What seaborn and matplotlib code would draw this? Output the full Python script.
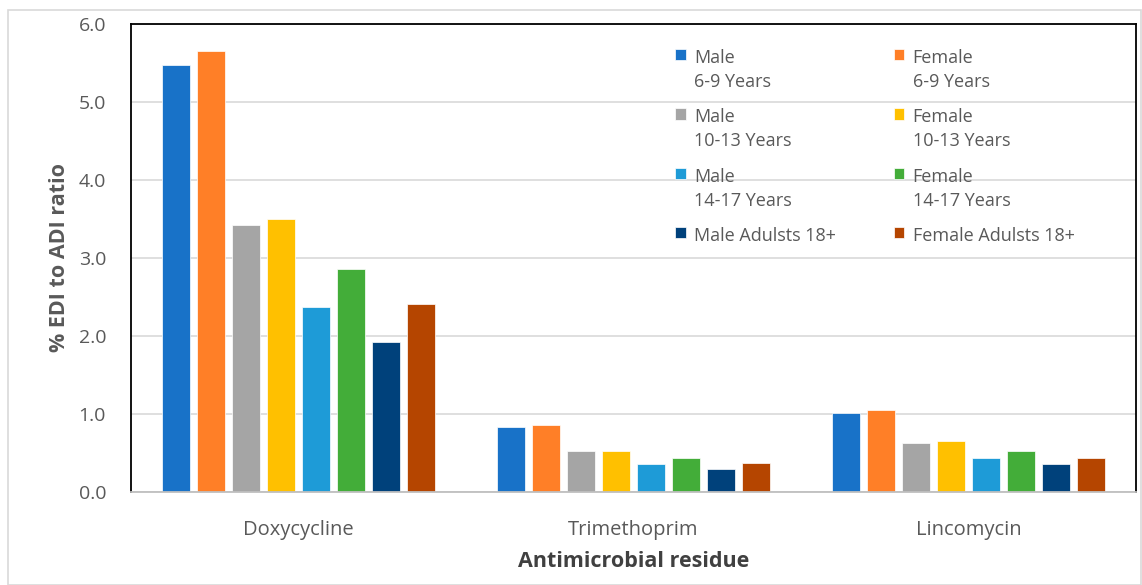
import pandas as pd
import numpy as np
import matplotlib.pyplot as plt
import matplotlib.patches as mpatches
import seaborn as sns

# ── Data ──────────────────────────────────────────────────────────────────────
residues = ["Doxycycline", "Trimethoprim", "Lincomycin"]
groups = [
    "Male\n6-9 Years", "Female\n6-9 Years",
    "Male\n10-13 Years", "Female\n10-13 Years",
    "Male\n14-17 Years", "Female\n14-17 Years",
    "Male Adulsts 18+", "Female Adulsts 18+",
]
doxycycline = [5.47, 5.65, 3.42, 3.50, 2.37, 2.86, 1.92, 2.41]
trimethoprim = [0.83, 0.855, 0.52, 0.53, 0.36, 0.43, 0.29, 0.37]
lincomycin = [1.01, 1.05, 0.63, 0.65, 0.44, 0.52, 0.36, 0.44]
colors = ["#1872C8", "#FF7F27", "#A5A5A5", "#FFC000",
          "#1E9BD7", "#43AD39", "#00417B", "#B54500"]

rows = []
for res, vals in zip(residues, [doxycycline, trimethoprim, lincomycin]):
    for g, v in zip(groups, vals):
        rows.append({"residue": res, "group": g, "ratio": v})
df = pd.DataFrame(rows)

# ── Plot ──────────────────────────────────────────────────────────────────────
sns.set_style("white")
plt.rcParams["font.family"] = ["Open Sans", "DejaVu Sans"]
TXT = "#595959"

fig = plt.figure(figsize=(11.42, 5.85), dpi=100)
ax = fig.add_axes([131 / 1142, 1 - 492 / 585, 1005 / 1142, 468 / 585])

sns.barplot(data=df, x="residue", y="ratio", hue="group", order=residues,
            hue_order=groups, palette=colors, width=0.835, gap=0.2,
            edgecolor="white", linewidth=0.5, saturation=1, ax=ax)

ax.set_ylim(0, 6)
ax.set_xlim(-0.5, 2.5)
ax.set_yticks(np.arange(0, 6.1, 1.0))
ax.set_yticklabels([f"{t:.1f}" for t in np.arange(0, 6.1, 1.0)])
ax.yaxis.grid(True, color="#D9D9D9", linewidth=1.2)
ax.set_axisbelow(True)
ax.tick_params(axis="y", labelsize=14, labelcolor=TXT, length=0, pad=18)
ax.tick_params(axis="x", labelsize=14.5, labelcolor=TXT, length=0, pad=20)

for side in ["left", "top", "right"]:
    ax.spines[side].set_color("black")
    ax.spines[side].set_linewidth(1.3)
ax.spines["bottom"].set_color("#BFBFBF")
ax.spines["bottom"].set_linewidth(1.3)

ax.set_ylabel("% EDI to ADI ratio", fontsize=15.5, fontweight="bold",
              color=TXT, labelpad=6)
ax.set_xlabel("Antimicrobial residue", fontsize=15.5, fontweight="bold",
              color="#404040", labelpad=8)

# legend filled row by row (male / female side by side)
handles, labels = ax.get_legend_handles_labels()
order = [0, 2, 4, 6, 1, 3, 5, 7]
leg = ax.legend([handles[i] for i in order], [labels[i] for i in order],
                ncol=2, frameon=False, fontsize=13, labelcolor=TXT,
                loc="upper left", bbox_to_anchor=(0.525, 0.982),
                handlelength=0.6, handleheight=0.6, handletextpad=0.45,
                columnspacing=3.2, labelspacing=0.95)
for t in leg.texts:
    t.set_linespacing(1.45)
for col in leg._legend_handle_box.get_children():
    for hp in col.get_children():
        hp.align = "top"

# outer chart-area border
fig.patches.append(mpatches.Rectangle((8 / 1142, 0), 1133 / 1142, 1 - 10 / 585,
                                      transform=fig.transFigure, fill=False,
                                      edgecolor="#D9D9D9", linewidth=1.2))

fig.savefig("out.png", dpi=100)
